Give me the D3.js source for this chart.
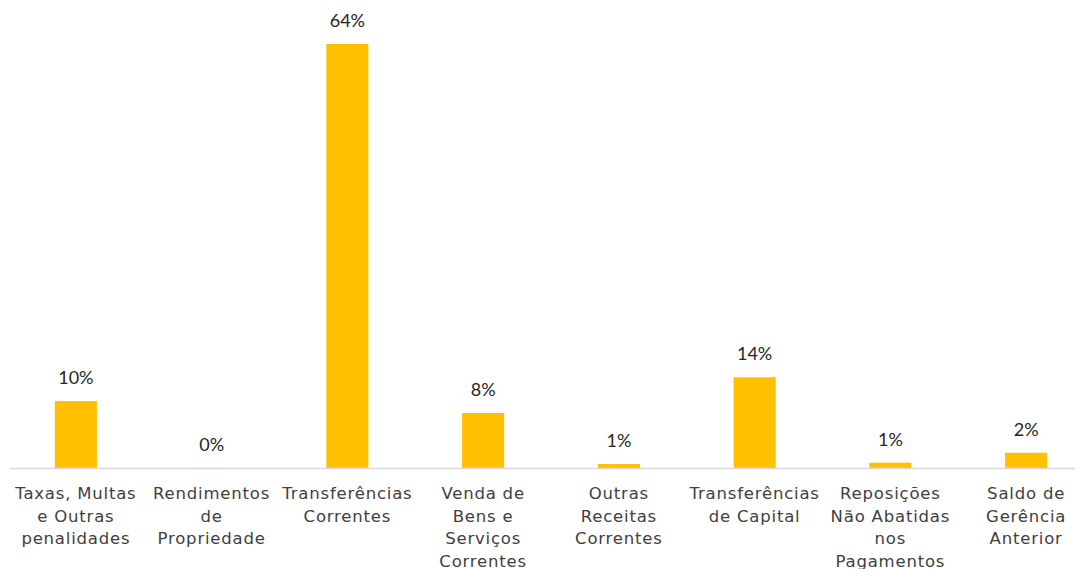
<!DOCTYPE html>
<html>
<head>
<meta charset="utf-8">
<script src="https://cdn.jsdelivr.net/npm/d3@7"></script>
<style>
  body { margin: 0; background: #fff; }
  .valueLabel { font-family: Lato, "Noto Sans", sans-serif; font-size: 18px; fill: #262626; }
  .catLabel { font-family: "DejaVu Sans", "Noto Sans", sans-serif; font-size: 16.5px; fill: #404040; letter-spacing: 0.8px; }
</style>
</head>
<body>
<div class="chart"></div>
<script>
var categories = ["Taxas, Multas e Outras penalidades", "Rendimentos de Propriedade", "Transferências Correntes",
    "Venda de Bens e Serviços Correntes", "Outras Receitas Correntes", "Transferências de Capital",
    "Reposições Não Abatidas nos Pagamentos", "Saldo de Gerência Anterior"];
var catLines = [
    ["Taxas, Multas", "e Outras", "penalidades"],
    ["Rendimentos", "de", "Propriedade"],
    ["Transferências", "Correntes"],
    ["Venda de", "Bens e", "Serviços", "Correntes"],
    ["Outras", "Receitas", "Correntes"],
    ["Transferências", "de Capital"],
    ["Reposições", "Não Abatidas", "nos", "Pagamentos"],
    ["Saldo de", "Gerência", "Anterior"]
];
var values = [10.1, 0.02, 64, 8.3, 0.6, 13.7, 0.8, 2.3];
var valueLabels = ["10%", "0%", "64%", "8%", "1%", "14%", "1%", "2%"];

var svgWidth = 1078;
var svgHeight = 569;

var svg = d3.select(".chart")
    .append("svg")
    .attr("width", svgWidth)
    .attr("height", svgHeight);

var data = categories.map(function(c, i) {
    return { cat: c, lines: catLines[i], value: values[i], label: valueLabels[i] };
});

// scales
var xScale = d3.scaleBand()
    .domain(categories)
    .range([8, 1094])
    .paddingInner(0.69)
    .paddingOuter(0.345);

var yScale = d3.scaleLinear()
    .domain([0, 64])
    .range([468, 44]);

// bars
svg.selectAll("rect.bar")
    .data(data)
    .enter()
    .append("rect")
    .attr("class", "bar")
    .attr("x", d => xScale(d.cat))
    .attr("y", d => yScale(d.value))
    .attr("width", xScale.bandwidth())
    .attr("height", d => yScale(0) - yScale(d.value))
    .attr("fill", "#FFC000");

// baseline
svg.append("line")
    .attr("x1", 10)
    .attr("x2", 1075)
    .attr("y1", yScale(0) + 0.5)
    .attr("y2", yScale(0) + 0.5)
    .attr("stroke", "#d9d9d9")
    .attr("stroke-width", 1.5);

// value labels
svg.selectAll("text.valueLabel")
    .data(data)
    .enter()
    .append("text")
    .attr("class", "valueLabel")
    .attr("text-anchor", "middle")
    .attr("x", d => xScale(d.cat) + xScale.bandwidth() / 2)
    .attr("y", d => yScale(d.value) - 17)
    .text(d => d.label);

// category labels
var catText = svg.selectAll("text.catLabel")
    .data(data)
    .enter()
    .append("text")
    .attr("class", "catLabel")
    .attr("text-anchor", "middle")
    .attr("x", d => xScale(d.cat) + xScale.bandwidth() / 2)
    .attr("y", 499);

catText.selectAll("tspan")
    .data(d => d.lines.map(l => ({ line: l, x: xScale(d.cat) + xScale.bandwidth() / 2 })))
    .enter()
    .append("tspan")
    .attr("x", d => d.x)
    .attr("dy", (d, i) => i === 0 ? 0 : 22.5)
    .text(d => d.line);
</script>
</body>
</html>
